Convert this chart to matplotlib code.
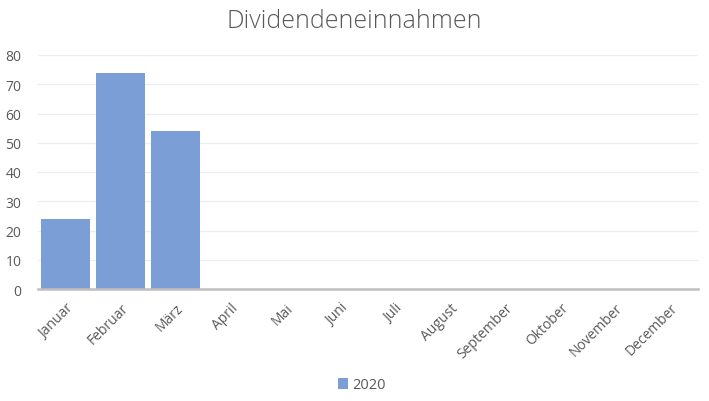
import matplotlib
matplotlib.use("Agg")
import matplotlib.pyplot as plt
from matplotlib.patches import Patch

months = ["Januar", "Februar", "März", "April", "Mai", "Juni", "Juli",
          "August", "September", "Oktober", "November", "December"]
values_2020 = [24, 74, 54, 0, 0, 0, 0, 0, 0, 0, 0, 0]
series_name = "2020"
yticks = [0, 10, 20, 30, 40, 50, 60, 70, 80]

plt.rcParams['font.family'] = ['Open Sans', 'DejaVu Sans']

fig = plt.figure(figsize=(7.09, 4.02), dpi=100)
ax = fig.add_axes([38/709, 1-290/402, 660/709, 234/402])

bar_color = "#7B9ED7"
x = list(range(len(months)))
ax.bar(x, values_2020, width=0.89, color=bar_color, zorder=3)
ax.set_xlim(-0.5, len(months) - 0.5)
ax.set_ylim(0, 80)
ax.set_yticks(yticks)
ax.set_yticklabels([str(t) for t in yticks], color="#595959", fontsize=10)
ax.set_xticks(x)
ax.set_xticklabels(months, rotation=45, ha="right", rotation_mode="anchor",
                   color="#595959", fontsize=10)
ax.tick_params(axis="both", length=0)
ax.tick_params(axis="x", pad=8)
ax.tick_params(axis="y", pad=12)
ax.grid(axis="y", color="#EDEDED", linewidth=0.9, zorder=0)
for s in ["top", "right", "left"]:
    ax.spines[s].set_visible(False)
ax.spines["bottom"].set_color("#BFBFBF")
ax.spines["bottom"].set_linewidth(1.8)
ax.spines["bottom"].set_zorder(4)

fig.text(0.5, 1-21/402, "Dividendeneinnahmen", ha="center", va="center",
         fontsize=18, color="#595959", fontweight="light")

handles = [Patch(facecolor=bar_color, label=series_name)]
fig.legend(handles=handles, loc="center", bbox_to_anchor=(362/709, 1-386/402),
           frameon=False, fontsize=10.5, handlelength=0.7, handleheight=0.7,
           handletextpad=0.3, labelcolor="#595959")

fig.savefig("out.png", dpi=100)
